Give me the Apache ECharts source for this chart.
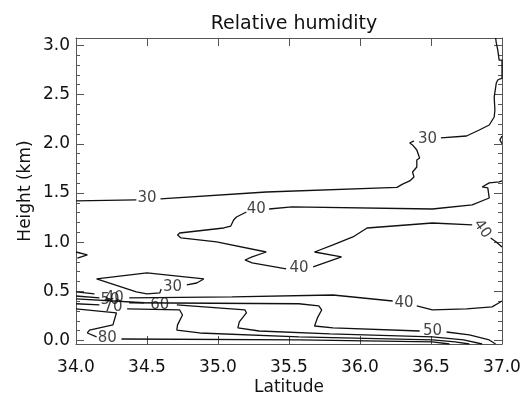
<!DOCTYPE html>
<html>
<head>
  <meta charset="utf-8">
  <script src="https://cdn.jsdelivr.net/npm/echarts@6/dist/echarts.min.js"></script>
  <style>
    html, body { margin: 0; padding: 0; background: #fff; }
    #main { width: 526px; height: 394px; }
  </style>
</head>
<body>
  <div id="main"></div>
  <script>
    // tick values
    var latTicks = [34.0, 34.5, 35.0, 35.5, 36.0, 36.5, 37.0];
    var heightTicks = [0.0, 0.5, 1.0, 1.5, 2.0, 2.5, 3.0];
    var heightMinor = [0.1, 0.2, 0.3, 0.4, 0.6, 0.7, 0.8, 0.9, 1.1, 1.2, 1.3, 1.4, 1.6, 1.7, 1.8, 1.9,
      2.1, 2.2, 2.3, 2.4, 2.6, 2.7, 2.8, 2.9];

    // contour lines, [latitude, height km], split where the label sits
    var rh30Upper = [
      [[34.0, 1.419], [34.425, 1.429]],
      [[34.595, 1.439], [35.34, 1.510], [36.26, 1.557], [36.30, 1.59], [36.35, 1.622], [36.38, 1.663],
       [36.37, 1.713], [36.40, 1.764], [36.40, 1.835], [36.42, 1.855], [36.40, 1.937], [36.37, 1.988],
       [36.35, 2.008], [36.38, 2.03]],
      [[36.57, 2.059], [36.75, 2.079], [36.84, 2.14], [36.91, 2.191], [36.945, 2.272], [36.95, 2.343],
       [36.945, 2.475], [36.96, 2.618], [36.97, 2.648], [37.0, 2.668], [37.0, 2.851], [36.98, 2.851],
       [36.97, 2.955], [36.96, 3.024], [36.955, 3.075]]
    ];
    var rh40Upper = [
      [[37.0, 1.622], [36.98, 1.612], [36.91, 1.602], [36.86, 1.561], [36.90, 1.551], [36.91, 1.449],
       [36.79, 1.378], [36.51, 1.337], [35.52, 1.358], [35.36, 1.337]],
      [[35.20, 1.307], [35.13, 1.256], [35.11, 1.226], [35.09, 1.164], [35.04, 1.144], [34.73, 1.093],
       [34.715, 1.073], [34.74, 1.043], [34.99, 1.002], [35.34, 0.900], [35.24, 0.850], [35.19, 0.819],
       [35.24, 0.789], [35.48, 0.728]],
      [[35.67, 0.748], [35.87, 0.850], [35.68, 0.900], [35.81, 0.972], [35.95, 1.053], [36.05, 1.144],
       [36.51, 1.195], [36.79, 1.175]],
      [[36.92, 1.043], [36.96, 1.002], [37.0, 0.951]]
    ];
    var rh30Lower = [
      [[34.78, 0.565], [34.85, 0.585], [34.90, 0.626], [34.50, 0.687], [34.145, 0.626], [34.425, 0.494],
       [34.50, 0.474], [34.59, 0.484], [34.60, 0.524]]
    ];
    var rh40Lower = [
      [[34.0, 0.494], [34.13, 0.474]],
      [[34.375, 0.433], [35.10, 0.443], [35.81, 0.463], [36.23, 0.402]],
      [[36.40, 0.352], [36.51, 0.311], [36.75, 0.321], [36.93, 0.342], [36.98, 0.384], [37.0, 0.402]]
    ];
    var rh50 = [
      [[34.0, 0.453], [34.165, 0.433]],
      [[34.375, 0.384], [35.57, 0.374], [35.71, 0.352], [35.73, 0.311], [35.70, 0.230], [35.68, 0.148],
       [35.81, 0.128], [36.42, 0.097]],
      [[36.61, 0.087], [36.77, 0.057], [36.91, 0.006], [36.955, -0.035]]
    ];
    var rh60 = [
      [[34.0, 0.423], [34.48, 0.384]],
      [[34.71, 0.362], [35.19, 0.311], [35.20, 0.282], [35.15, 0.189], [35.14, 0.128], [35.29, 0.097],
       [35.79, 0.067], [36.51, 0.037], [36.73, 0.006], [36.86, -0.035]]
    ];
    var rh70 = [
      [[34.0, 0.374], [34.165, 0.362]],
      [[34.36, 0.321], [34.73, 0.311], [34.75, 0.260], [34.715, 0.159], [34.71, 0.107], [34.87, 0.077],
       [35.57, 0.037], [36.51, 0.006], [36.67, -0.014], [36.77, -0.035]]
    ];
    var rh80 = [
      [[34.0, 0.321], [34.285, 0.282], [34.27, 0.209], [34.26, 0.159], [34.095, 0.107], [34.08, 0.077],
       [34.145, 0.037]],
      [[34.32, 0.016], [35.57, 0.006], [36.51, -0.014], [36.63, -0.035]]
    ];
    var edgeBits = [
      [[34.0, 0.900], [34.08, 0.870], [34.01, 0.839]],
      [[37.0, 2.079], [36.985, 2.04], [37.0, 2.0]]
    ];

    // contour labels: [latitude, height, text, rotation]
    var contourLabels = [
      [34.50, 1.449, '30', 0],
      [36.475, 2.05, '30', 0],
      [35.27, 1.337, '40', 0],
      [35.57, 0.738, '40', 0],
      [36.86, 1.134, '40', -55],
      [34.68, 0.545, '30', 0],
      [36.31, 0.384, '40', 0],
      [34.27, 0.433, '40', 0],
      [34.24, 0.41, '50', 0],
      [36.51, 0.097, '50', 0],
      [34.59, 0.362, '60', 0],
      [34.26, 0.342, '70', 0],
      [34.22, 0.026, '80', 0]
    ];

    var allContours = [rh30Upper, rh40Upper, rh30Lower, rh40Lower, rh50, rh60, rh70, rh80, edgeBits];

    var font = 'DejaVu Sans';
    var ink = '#111';
    var frame = '#555';

    var series = [];
    allContours.forEach(function (c) {
      c.forEach(function (seg) {
        series.push({
          type: 'line',
          data: seg,
          showSymbol: false,
          silent: true,
          lineStyle: { color: '#111', width: 1.3 },
          clip: true
        });
      });
    });
    series.push({
      type: 'scatter',
      silent: true,
      symbolSize: 1,
      itemStyle: { color: 'rgba(0,0,0,0)' },
      label: {
        show: true,
        position: 'inside',
        fontFamily: font,
        fontSize: 15,
        color: ink,
        formatter: function (p) { return p.value[2]; }
      },
      data: contourLabels.map(function (d) {
        return { value: [d[0], d[1], d[2]], label: { rotate: d[3] } };
      })
    });

    var myChart = echarts.init(document.getElementById('main'), null, { renderer: 'canvas' });
    var option = {
      animation: false,
      backgroundColor: '#fff',
      title: {
        text: 'Relative humidity',
        left: 289,
        top: 10,
        textAlign: 'center',
        textStyle: { fontFamily: font, fontSize: 19, fontWeight: 'normal', color: ink }
      },
      grid: { left: 76, right: 24, top: 38, bottom: 50, outerBoundsMode: 'none', containLabel: false },
      xAxis: [
        {
          type: 'value', min: 34, max: 37, position: 'bottom',
          name: 'Latitude', nameLocation: 'middle', nameGap: 35, nameMoveOverlap: false,
          nameTextStyle: { fontFamily: font, fontSize: 17, color: ink },
          axisLine: { onZero: false, lineStyle: { color: frame, width: 1 } },
          axisTick: { inside: true, length: 8, customValues: latTicks, lineStyle: { color: frame } },
          axisLabel: {
            customValues: latTicks, margin: 15, fontFamily: font, fontSize: 17, color: ink,
            formatter: function (v) { return v.toFixed(1); }
          },
          splitLine: { show: false }
        },
        {
          type: 'value', min: 34, max: 37, position: 'top',
          axisLine: { onZero: false, lineStyle: { color: frame, width: 1 } },
          axisTick: { inside: true, length: 8, customValues: latTicks, lineStyle: { color: frame } },
          axisLabel: { show: false },
          splitLine: { show: false }
        }
      ],
      yAxis: [
        {
          type: 'value', min: -0.035, max: 3.075, position: 'left',
          name: 'Height (km)', nameLocation: 'middle', nameGap: 42, nameMoveOverlap: false,
          nameTextStyle: { fontFamily: font, fontSize: 17, color: ink },
          axisLine: { onZero: false, lineStyle: { color: frame, width: 1 } },
          axisTick: { inside: true, length: 8, customValues: heightTicks, lineStyle: { color: frame } },
          axisLabel: {
            customValues: heightTicks, margin: 6, fontFamily: font, fontSize: 17, color: ink,
            formatter: function (v) { return v.toFixed(1); }
          },
          splitLine: { show: false }
        },
        {
          type: 'value', min: -0.035, max: 3.075, position: 'left',
          axisLine: { show: false, onZero: false },
          axisTick: { inside: true, length: 4, customValues: heightMinor, lineStyle: { color: frame } },
          axisLabel: { show: false },
          splitLine: { show: false }
        },
        {
          type: 'value', min: -0.035, max: 3.075, position: 'right',
          axisLine: { show: true, onZero: false, lineStyle: { color: frame, width: 1 } },
          axisTick: { inside: true, length: 8, customValues: heightTicks, lineStyle: { color: frame } },
          axisLabel: { show: false },
          splitLine: { show: false }
        },
        {
          type: 'value', min: -0.035, max: 3.075, position: 'right',
          axisLine: { show: false, onZero: false },
          axisTick: { inside: true, length: 4, customValues: heightMinor, lineStyle: { color: frame } },
          axisLabel: { show: false },
          splitLine: { show: false }
        }
      ],
      series: series
    };
    myChart.setOption(option);
  </script>
</body>
</html>
